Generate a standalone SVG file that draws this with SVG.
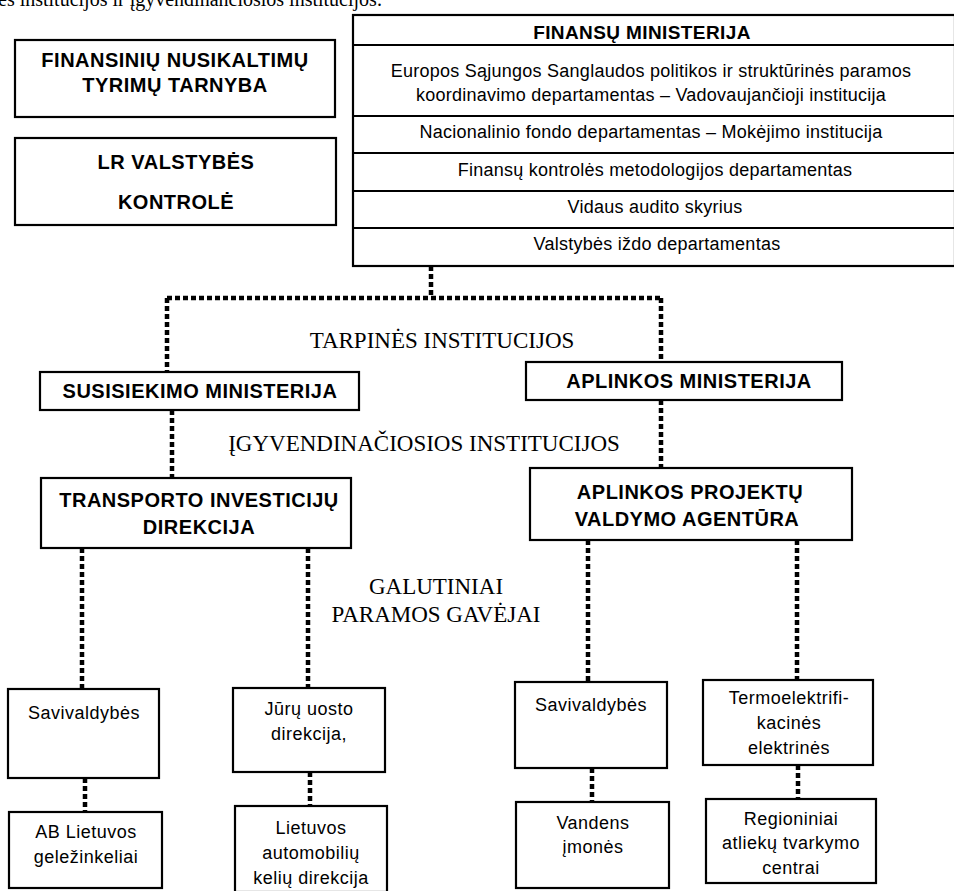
<svg xmlns="http://www.w3.org/2000/svg" width="954" height="891" viewBox="0 0 954 891">
<style>
.box{fill:#fff;stroke:#000;stroke-width:2.2}
.rule{stroke:#000;stroke-width:2.2}
.b{font-family:"Liberation Sans",Arial,sans-serif;font-weight:bold;font-size:20px;letter-spacing:0.5px;fill:#000;text-anchor:middle}
.r{font-family:"Liberation Sans",Arial,sans-serif;font-size:18px;letter-spacing:0.25px;fill:#000;text-anchor:middle}
.sm{font-family:"Liberation Sans",Arial,sans-serif;font-size:18px;letter-spacing:0.5px;fill:#000;text-anchor:middle}
.s{font-family:"Liberation Serif","Times New Roman",serif;font-size:23px;fill:#000;text-anchor:middle}
.dot{fill:none;stroke:#000;stroke-width:4.5;stroke-dasharray:5 3}
</style>
<rect width="954" height="891" fill="#fff"/>
<text x="-2" y="6" font-family="Liberation Serif,serif" font-size="20" fill="#000">es institucijos ir įgyvendinančiosios institucijos:</text>
<g id="connectors">
<path class="dot" d="M431 266V298M167 298H661M167 298V372M661 298V362"/>
<path class="dot" d="M172 410V478M661 400V468"/>
<path class="dot" d="M82 548V689M308 548V688M588 540V682M797 540V680"/>
<path class="dot" d="M85 778V812M310 772V806M592 768V802M798 765V799"/>
</g>
<g id="n-fntt"><rect class="box" x="15" y="40" width="320" height="77"/>
<text class="b" x="175" y="67">FINANSINIŲ NUSIKALTIMŲ</text>
<text class="b" x="175" y="92">TYRIMŲ TARNYBA</text></g>
<g id="n-vk"><rect class="box" x="15" y="138" width="321" height="87"/>
<text class="b" x="176" y="169">LR VALSTYBĖS</text>
<text class="b" x="176" y="209">KONTROLĖ</text></g>
<g id="n-fm"><rect class="box" x="353" y="15" width="602" height="251"/>
<line class="rule" x1="353" y1="45" x2="954" y2="45"/>
<line class="rule" x1="353" y1="116" x2="954" y2="116"/>
<line class="rule" x1="353" y1="153" x2="954" y2="153"/>
<line class="rule" x1="353" y1="191" x2="954" y2="191"/>
<line class="rule" x1="353" y1="228" x2="954" y2="228"/>
<text class="b" x="642" y="39" style="font-size:19px;letter-spacing:0.4px">FINANSŲ MINISTERIJA</text>
<text class="r" x="651" y="77">Europos Sąjungos Sanglaudos politikos ir struktūrinės paramos</text>
<text class="r" x="651" y="101">koordinavimo departamentas –  Vadovaujančioji institucija</text>
<text class="r" x="651" y="138">Nacionalinio fondo departamentas –  Mokėjimo institucija</text>
<text class="r" x="655" y="176">Finansų kontrolės metodologijos departamentas</text>
<text class="r" x="655" y="213">Vidaus audito skyrius</text>
<text class="r" x="657" y="250">Valstybės iždo departamentas</text></g>
<text class="s" x="442" y="348">TARPINĖS INSTITUCIJOS</text>
<g id="n-sm"><rect class="box" x="40" y="372" width="319" height="38"/>
<text class="b" x="200" y="398">SUSISIEKIMO MINISTERIJA</text></g>
<g id="n-am"><rect class="box" x="526" y="362" width="316" height="38"/>
<text class="b" x="689" y="388">APLINKOS MINISTERIJA</text></g>
<text class="s" x="424" y="451">ĮGYVENDINAČIOSIOS INSTITUCIJOS</text>
<g id="n-tid"><rect class="box" x="41" y="478" width="310" height="70"/>
<text class="b" x="199" y="507">TRANSPORTO INVESTICIJŲ</text>
<text class="b" x="199" y="534">DIREKCIJA</text></g>
<g id="n-apva"><rect class="box" x="530" y="468" width="322" height="72"/>
<text class="b" x="690" y="499">APLINKOS PROJEKTŲ</text>
<text class="b" x="687" y="526">VALDYMO AGENTŪRA</text></g>
<text class="s" x="436" y="594">GALUTINIAI</text>
<text class="s" x="436" y="622">PARAMOS GAVĖJAI</text>
<g id="n-sav1"><rect class="box" x="8" y="689" width="151" height="89"/>
<text class="sm" x="84" y="719">Savivaldybės</text></g>
<g id="n-juru"><rect class="box" x="233" y="688" width="152" height="84"/>
<text class="sm" x="309" y="715">Jūrų uosto</text>
<text class="sm" x="309" y="740">direkcija,</text></g>
<g id="n-sav2"><rect class="box" x="515" y="682" width="152" height="86"/>
<text class="sm" x="591" y="711">Savivaldybės</text></g>
<g id="n-termo"><rect class="box" x="703" y="680" width="170" height="85"/>
<text class="sm" x="789" y="704">Termoelektrifi-</text>
<text class="sm" x="789" y="729">kacinės</text>
<text class="sm" x="789" y="754">elektrinės</text></g>
<g id="n-ab"><rect class="box" x="9" y="812" width="153" height="76"/>
<text class="sm" x="86" y="838">AB Lietuvos</text>
<text class="sm" x="86" y="863">geležinkeliai</text></g>
<g id="n-lakd"><rect class="box" x="235" y="806" width="152" height="86"/>
<text class="sm" x="311" y="834">Lietuvos</text>
<text class="sm" x="311" y="859">automobilių</text>
<text class="sm" x="311" y="884">kelių direkcija</text></g>
<g id="n-vand"><rect class="box" x="516" y="802" width="153" height="86"/>
<text class="sm" x="593" y="829">Vandens</text>
<text class="sm" x="593" y="853">įmonės</text></g>
<g id="n-rat"><rect class="box" x="706" y="799" width="170" height="84"/>
<text class="sm" x="791" y="825">Regioniniai</text>
<text class="sm" x="791" y="849">atliekų tvarkymo</text>
<text class="sm" x="791" y="874">centrai</text></g>
</svg>
